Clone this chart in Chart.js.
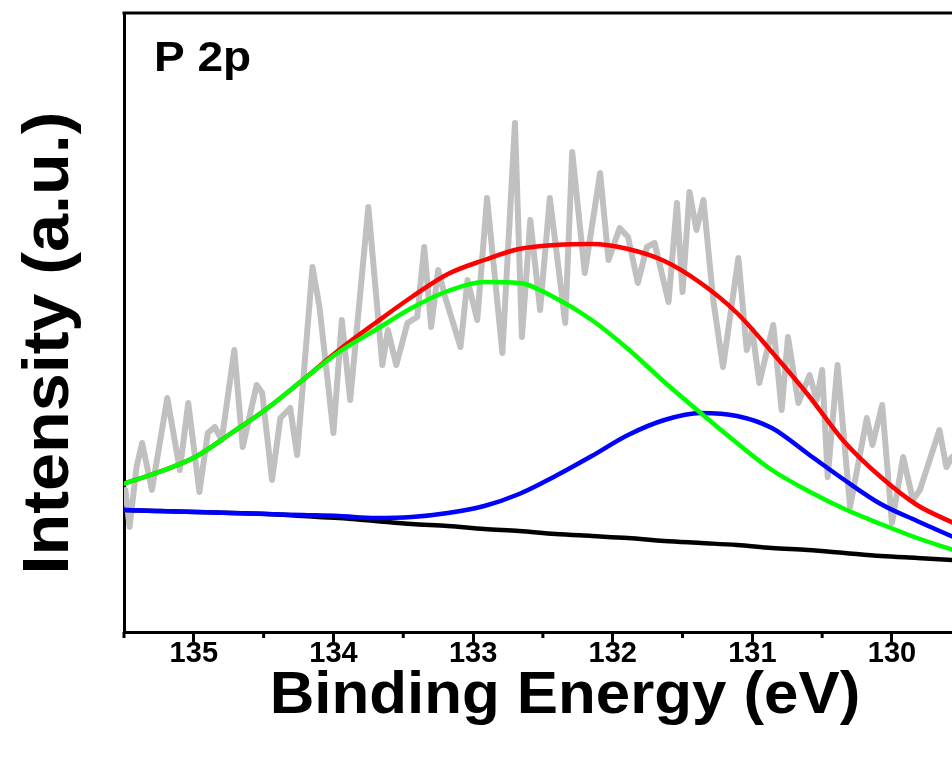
<!DOCTYPE html>
<html>
<head>
<meta charset="utf-8">
<title>P 2p</title>
<script src="https://cdn.jsdelivr.net/npm/chart.js@4.4.1/dist/chart.umd.min.js"></script>
<style>
  html, body { margin: 0; padding: 0; background: #fff; }
  canvas { display: block; }
</style>
</head>
<body>
<canvas id="xps" width="952" height="778"></canvas>
<script>
// raw spectrum (binding energy in eV, intensity in a.u.)
const rawEnergy = [135.49, 135.46, 135.41, 135.37, 135.30, 135.19, 135.10, 135.04, 134.96, 134.90,
  134.85, 134.80, 134.71, 134.65, 134.55, 134.51, 134.44, 134.38, 134.31, 134.26,
  134.15, 134.10, 134.00, 133.94, 133.88, 133.75, 133.65, 133.61, 133.55, 133.47,
  133.40, 133.35, 133.30, 133.25, 133.20, 133.09, 133.04, 132.97, 132.90, 132.79,
  132.70, 132.65, 132.59, 132.52, 132.45, 132.34, 132.29, 132.20, 132.09, 132.03,
  131.95, 131.89, 131.82, 131.755, 131.70, 131.60, 131.54, 131.50, 131.45, 131.40,
  131.35, 131.28, 131.21, 131.10, 131.04, 131.00, 130.95, 130.85, 130.79, 130.745,
  130.67, 130.59, 130.54, 130.50, 130.46, 130.39, 130.30, 130.18, 130.14, 130.07,
  130.00, 129.92, 129.85, 129.80, 129.66, 129.61, 129.57];
const rawIntensity = [142, 105, 165, 189, 142, 234, 162, 229, 140, 199,
  205, 192, 282, 185, 247, 239, 152, 214, 224, 177,
  365, 325, 199, 312, 232, 425, 267, 302, 267, 309,
  315, 385, 305, 362, 335, 285, 352, 312, 434, 279,
  509, 295, 412, 322, 434, 309, 480, 359, 459, 372,
  404, 395, 349, 385, 389, 330, 429, 340, 440, 402,
  432, 332, 265, 374, 282, 302, 249, 307, 222, 295,
  229, 257, 232, 262, 155, 267, 125, 214, 187, 227,
  109, 175, 132, 142, 202, 165, 175];

// fitted curves on a common energy grid
const fitEnergy = [135.51, 135.25, 134.99, 134.73, 134.48, 134.22, 133.96, 133.70, 133.44, 133.18,
  132.92, 132.67, 132.41, 132.15, 131.89, 131.63, 131.37, 131.11, 130.86, 130.60,
  130.34, 130.08, 129.82, 129.56];
const envelope = [148, 160, 175, 199, 223, 252, 282, 309, 335, 358,
  372, 383, 387, 388, 383, 371, 349, 319, 280, 237,
  190, 155, 127, 109];
const peakHigh = [148, 160, 175, 199, 223, 252, 280, 302, 324, 341,
  350, 349, 334, 312, 283, 250, 219, 189, 162, 141,
  123, 108, 94, 82];
const peakLow = [122, 121, 120, 119, 118, 117, 116, 114, 115, 119,
  126, 138, 156, 176, 197, 212, 219, 216, 204, 178,
  152, 128, 111, 95];
const background = [122, 121, 120, 119, 118, 116, 114, 111, 108, 106,
  103, 101, 98, 96, 94, 91, 89, 87, 84, 82,
  79, 76, 74, 72];

const majorTicks = [130, 131, 132, 133, 134, 135];
const minorTicks = [130.5, 131.5, 132.5, 133.5, 134.5, 135.5];

function pts(xs, ys) {
    return xs.map((x, i) => ({ x: x, y: ys[i] }));
}

function curve(data, color, order) {
    return {
        data: data,
        borderColor: color,
        borderWidth: 4.5,
        pointRadius: 0,
        tension: 0.4,
        cubicInterpolationMode: 'monotone',
        fill: false,
        order: order
    };
}

// frame top edge, minor ticks and the texts
const extras = {
    id: 'extras',
    afterDraw(chart) {
        const ctx = chart.ctx;
        const a = chart.chartArea;
        const x = chart.scales.x;
        ctx.save();
        ctx.strokeStyle = '#000';
        ctx.lineWidth = 3;
        ctx.beginPath();
        ctx.moveTo(a.left - 1.5, a.top);
        ctx.lineTo(a.right, a.top);
        minorTicks.forEach(v => {
            const px = x.getPixelForValue(v);
            ctx.moveTo(px, a.bottom);
            ctx.lineTo(px, a.bottom + 6);
        });
        ctx.stroke();

        ctx.fillStyle = '#000';
        ctx.textBaseline = 'alphabetic';

        ctx.font = 'bold 43px "Liberation Sans", Arial, sans-serif';
        ctx.textAlign = 'left';
        ctx.save();
        ctx.translate(154, 71);
        ctx.scale(1.07, 1);
        ctx.fillText('P 2p', 0, 0);
        ctx.restore();

        ctx.font = 'bold 60px "Liberation Sans", Arial, sans-serif';
        ctx.textAlign = 'center';
        ctx.save();
        ctx.translate(565, 713);
        ctx.scale(1.03, 1);
        ctx.fillText('Binding Energy (eV)', 0, 0);
        ctx.restore();

        ctx.font = 'bold 64px "Liberation Sans", Arial, sans-serif';
        ctx.save();
        ctx.translate(68, 343);
        ctx.rotate(-Math.PI / 2);
        ctx.scale(1.067, 1);
        ctx.fillText('Intensity (a.u.)', 0, 0);
        ctx.restore();
        ctx.restore();
    }
};

const chart = new Chart(document.getElementById('xps'), {
    type: 'line',
    data: {
        datasets: [
            {
                data: pts(rawEnergy, rawIntensity),
                borderColor: '#c0c0c0',
                borderWidth: 6,
                borderJoinStyle: 'round',
                borderCapStyle: 'round',
                pointRadius: 0,
                tension: 0,
                fill: false,
                order: 5
            },
            curve(pts(fitEnergy, background), '#000000', 4),
            curve(pts(fitEnergy, envelope), '#ff0000', 3),
            curve(pts(fitEnergy, peakLow), '#0000ff', 2),
            curve(pts(fitEnergy, peakHigh), '#00ff00', 1)
        ]
    },
    options: {
        responsive: false,
        animation: false,
        layout: { padding: { top: 13, right: 0, bottom: 0, left: 0 } },
        plugins: {
            legend: { display: false },
            tooltip: { enabled: false }
        },
        scales: {
            x: {
                type: 'linear',
                position: 'bottom',
                reverse: true,
                min: 129.57,
                max: 135.5,
                afterFit: s => { s.height = 146; },
                afterBuildTicks: s => { s.ticks = majorTicks.map(v => ({ value: v })); },
                ticks: {
                    color: '#000',
                    font: { family: '"Liberation Sans", Arial, sans-serif', size: 29, weight: 'bold' },
                    padding: -5,
                    maxRotation: 0,
                    autoSkip: false,
                    callback: v => String(v)
                },
                grid: {
                    drawOnChartArea: false,
                    drawTicks: true,
                    tickLength: 10,
                    tickWidth: 3,
                    tickColor: '#000'
                },
                border: { display: true, color: '#000', width: 3 }
            },
            y: {
                min: 0,
                max: 619,
                afterFit: s => { s.width = 124; },
                ticks: { display: false },
                grid: { display: false, drawTicks: false },
                border: { display: true, color: '#000', width: 3 }
            }
        }
    },
    plugins: [extras]
});
</script>
</body>
</html>
